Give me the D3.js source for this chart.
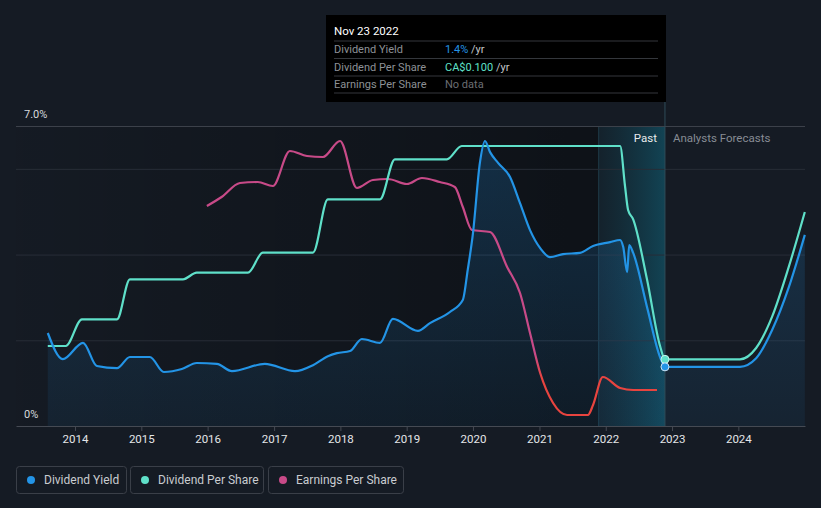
<!DOCTYPE html>
<html>
<head>
<meta charset="utf-8">
<script src="https://cdn.jsdelivr.net/npm/d3@7"></script>
<style>
body{margin:0;background:#151b24;}
svg{display:block;font-family:Roboto,sans-serif;}
</style>
</head>
<body>
<svg id="chart" width="821" height="508"></svg>
<script>
// dividend yield (%), past
var yieldDates = ["2013-08-04","2013-10-26","2014-02-14","2014-05-01","2014-08-20","2014-10-30","2015-02-17","2015-05-05","2015-08-12","2015-11-02","2016-02-21","2016-05-14","2016-11-11","2017-04-26","2017-08-03","2017-10-24","2017-12-13","2018-02-23","2018-04-29","2018-08-07","2018-10-17","2019-03-04","2019-05-09","2019-08-27","2019-11-06","2019-12-03","2020-01-01","2020-02-08","2020-03-07","2020-04-04","2020-05-18","2020-07-23","2020-09-16","2020-11-10","2021-01-05","2021-02-28","2021-05-11","2021-08-12","2021-10-23","2022-01-25","2022-03-21","2022-04-07","2022-04-29","2022-05-10","2022-06-01","2022-08-16","2022-10-27","2022-11-23"];
var yieldValues = [2.17,1.56,1.94,1.40,1.35,1.61,1.61,1.26,1.33,1.47,1.45,1.28,1.45,1.28,1.42,1.63,1.70,1.75,2.03,1.94,2.50,2.22,2.40,2.66,2.94,3.64,4.50,6.14,6.65,6.39,6.14,5.81,5.20,4.57,4.15,3.94,4.01,4.04,4.20,4.29,4.34,4.18,3.59,4.22,4.04,2.78,1.61,1.38];
// dividend yield forecast
var yieldFcDates = ["2024-01-10","2024-04-08","2024-07-05","2024-10-05","2025-01-01"];
var yieldFcValues = [1.38,1.58,2.24,3.24,4.46];

// dividend per share (CA$)
var dpsDates = ["2013-08-04","2013-11-11","2014-02-08","2014-08-20","2014-10-30","2015-08-18","2015-11-02","2016-08-10","2016-10-31","2017-08-03","2017-10-24","2018-08-07","2018-10-28","2019-08-10","2019-10-31","2022-03-21","2022-04-17","2022-05-04","2022-06-01","2022-08-16","2022-10-27","2022-11-23"];
var dpsValues = [0.12,0.12,0.16,0.16,0.22,0.22,0.23,0.23,0.26,0.26,0.34,0.34,0.40,0.40,0.42,0.42,0.36,0.324,0.31,0.22,0.12,0.10];
var dpsFcDates = ["2024-01-10","2024-04-08","2024-07-05","2024-10-05","2025-01-01"];
var dpsFcValues = [0.10,0.117,0.164,0.239,0.321];

// earnings per share (CA$)
var epsDates = ["2015-12-28","2016-03-18","2016-06-27","2016-10-03","2016-12-25","2017-03-29","2017-07-01","2017-09-27","2017-12-30","2018-04-02","2018-06-29","2018-09-20","2019-01-02","2019-03-26","2019-07-02","2019-09-23","2019-11-06","2019-12-26","2020-04-04","2020-07-07","2020-09-16","2020-11-10","2021-01-05","2021-03-17","2021-06-02","2021-09-25","2021-10-23","2021-12-16","2022-03-21","2022-06-01","2022-10-10"];
var epsValues = [2.20,2.29,2.43,2.44,2.40,2.75,2.70,2.69,2.85,2.38,2.46,2.47,2.42,2.48,2.44,2.39,2.19,1.96,1.94,1.59,1.33,0.93,0.53,0.23,0.11,0.11,0.21,0.49,0.38,0.36,0.36];

var tickYears = [2014,2015,2016,2017,2018,2019,2020,2021,2022,2023,2024];
var gridValues = [2,4,6,7];
var yLabelValues = [0,7];

var hoverDate = "2022-11-23";
var bandStart = "2021-11-23";
var tooltipTitle = "Nov 23 2022";
var tooltipLabels = ["Dividend Yield","Dividend Per Share","Earnings Per Share"];
var tooltipValues = ["1.4%","CA$0.100","No data"];
var legendNames = ["Dividend Yield","Dividend Per Share","Earnings Per Share"];

var BLUE = "#2394e6", TEAL = "#5fe0c9", PINK = "#c84a88", RED = "#e8443f";
var parse = d3.timeParse("%Y-%m-%d");

var zip = function(ds, vs){ return ds.map(function(d,i){ return {date: parse(d), value: vs[i]}; }); };
var yieldData = zip(yieldDates.concat(yieldFcDates), yieldValues.concat(yieldFcValues));
var dpsData = zip(dpsDates.concat(dpsFcDates), dpsValues.concat(dpsFcValues));
var epsData = zip(epsDates, epsValues);

var plotTop = 126, plotBottom = 426, plotLeft = 16, plotRight = 805;
var x = d3.scaleTime().domain([new Date(2013,1,10), new Date(2025,0,2)]).range([plotLeft, plotRight]);
var y = d3.scaleLinear().domain([0,7]).range([plotBottom, plotTop]);
var yDps = d3.scaleLinear().domain([0,0.45]).range([plotBottom, plotTop]);
var yEps = d3.scaleLinear().domain([0,3]).range([plotBottom, plotTop]);

var svg = d3.select('#chart');
var defs = svg.append('defs');

var g1 = defs.append('linearGradient').attr('id','pastShade').attr('x1',0).attr('x2',1).attr('y1',0).attr('y2',0);
g1.append('stop').attr('offset','0%').attr('stop-color','#000').attr('stop-opacity',0.02);
g1.append('stop').attr('offset','100%').attr('stop-color','#000').attr('stop-opacity',0.35);

var g2 = defs.append('linearGradient').attr('id','bandShade').attr('x1',0).attr('x2',1).attr('y1',0).attr('y2',0);
g2.append('stop').attr('offset','0%').attr('stop-color','#0a6f86').attr('stop-opacity',0.08);
g2.append('stop').attr('offset','100%').attr('stop-color','#0d8fae').attr('stop-opacity',0.35);

var g3 = defs.append('linearGradient').attr('id','areaFill').attr('gradientUnits','userSpaceOnUse')
    .attr('x1',0).attr('x2',0).attr('y1',plotTop).attr('y2',plotBottom);
g3.append('stop').attr('offset','0%').attr('stop-color',BLUE).attr('stop-opacity',0.22);
g3.append('stop').attr('offset','100%').attr('stop-color',BLUE).attr('stop-opacity',0.07);

var g4 = defs.append('linearGradient').attr('id','epsStroke').attr('gradientUnits','userSpaceOnUse')
    .attr('x1',0).attr('x2',0).attr('y1',plotTop).attr('y2',plotBottom);
g4.append('stop').attr('offset','0%').attr('stop-color',PINK);
g4.append('stop').attr('offset','76%').attr('stop-color',PINK);
g4.append('stop').attr('offset','84%').attr('stop-color',RED);
g4.append('stop').attr('offset','100%').attr('stop-color',RED);

// background shading
var xb = x(parse(bandStart)), xh = x(parse(hoverDate));
svg.append('rect').attr('x',plotLeft).attr('y',plotTop).attr('width',xb-plotLeft).attr('height',plotBottom-plotTop).attr('fill','url(#pastShade)');
svg.append('rect').attr('x',xb).attr('y',plotTop).attr('width',xh-xb).attr('height',plotBottom-plotTop).attr('fill','url(#bandShade)');
svg.append('line').attr('x1',xb).attr('x2',xb).attr('y1',plotTop).attr('y2',plotBottom).attr('stroke','#1e3a46').attr('stroke-width',1);

// grid
svg.append('g').selectAll('line').data(gridValues).enter().append('line')
    .attr('x1',plotLeft).attr('x2',plotRight)
    .attr('y1',function(d){return y(d)+0.5}).attr('y2',function(d){return y(d)+0.5})
    .attr('stroke',function(d){return d==7 ? '#3c414a' : '#272d37'})
    .attr('stroke-width',1);

svg.append('g').selectAll('text').data(yLabelValues).enter().append('text')
    .attr('x',24).attr('y',function(d){return y(d)-8})
    .attr('fill','#d8dadd').style('font-size','11px')
    .text(function(d){return d==0 ? '0%' : d.toFixed(1)+'%'});

// area + lines
var curve = d3.curveMonotoneX;
svg.append('path').datum(yieldData)
    .attr('d', d3.area().x(function(d){return x(d.date)}).y0(plotBottom).y1(function(d){return y(d.value)}).curve(curve))
    .attr('fill','url(#areaFill)');

svg.append('path').datum(epsData)
    .attr('d', d3.line().x(function(d){return x(d.date)}).y(function(d){return yEps(d.value)}).curve(curve))
    .attr('fill','none').attr('stroke','url(#epsStroke)').attr('stroke-width',2.2);

svg.append('path').datum(dpsData)
    .attr('d', d3.line().x(function(d){return x(d.date)}).y(function(d){return yDps(d.value)}).curve(curve))
    .attr('fill','none').attr('stroke',TEAL).attr('stroke-width',2.2);

svg.append('path').datum(yieldData)
    .attr('d', d3.line().x(function(d){return x(d.date)}).y(function(d){return y(d.value)}).curve(curve))
    .attr('fill','none').attr('stroke',BLUE).attr('stroke-width',2.2);

// x axis
var xAxis = d3.axisBottom(x).tickValues(tickYears.map(function(yr){return new Date(yr,0,1)}))
    .tickFormat(d3.timeFormat('%Y')).tickSize(5).tickSizeOuter(0);
var ax = svg.append('g').attr('transform','translate(0,'+plotBottom+')').call(xAxis);
ax.select('.domain').attr('stroke','#454a53');
ax.selectAll('.tick line').attr('stroke','#454a53');
ax.selectAll('.tick text').attr('fill','#e4e6e8').attr('y',9).style('font-size','11.5px').style('font-family','Roboto');

// hover line & markers
svg.append('line').attr('x1',xh).attr('x2',xh).attr('y1',101).attr('y2',plotBottom)
    .attr('stroke','#2f4b58').attr('stroke-width',1);
svg.append('text').attr('x',xh-8).attr('y',142).attr('text-anchor','end')
    .attr('fill','#e8eaec').style('font-size','11.5px').text('Past');
svg.append('text').attr('x',xh+8).attr('y',142)
    .attr('fill','#878c94').style('font-size','11.5px').text('Analysts Forecasts');

var hd = parse(hoverDate);
svg.append('circle').attr('cx',x(hd)).attr('cy',yDps(dpsValues[dpsValues.length-1])).attr('r',4)
    .attr('fill',TEAL).attr('stroke','#c8f5ec').attr('stroke-width',1);
svg.append('circle').attr('cx',x(hd)).attr('cy',y(yieldValues[yieldValues.length-1])).attr('r',4)
    .attr('fill',BLUE).attr('stroke','#cfe6f8').attr('stroke-width',1);

// tooltip
var tt = svg.append('g');
tt.append('rect').attr('x',326).attr('y',15).attr('width',340).attr('height',87).attr('fill','#000');
tt.append('text').attr('x',334).attr('y',35).attr('fill','#fff').style('font-size','11.5px').text(tooltipTitle);
var sepY = [41,58.5,76,93];
tt.selectAll('line').data(sepY).enter().append('line')
    .attr('x1',334).attr('x2',658).attr('y1',function(d){return d}).attr('y2',function(d){return d})
    .attr('stroke','#34373c').attr('stroke-width',1);
var valColors = [BLUE, TEAL, '#6b6e73'];
tooltipLabels.forEach(function(lab,i){
    var yy = 53 + i*17.5;
    tt.append('text').attr('x',334).attr('y',yy).attr('fill','#8d9196').style('font-size','11px').text(lab);
    var t = tt.append('text').attr('x',445).attr('y',yy).style('font-size','11px');
    t.append('tspan').attr('fill',valColors[i]).text(tooltipValues[i]);
    if(i<2) t.append('tspan').attr('fill','#c4c6c9').text(' /yr');
});

// legend
var legColors = [BLUE, TEAL, PINK];
var legX = [16,130,268], legW = [110,133,135];
var lg = svg.append('g').selectAll('g').data(legendNames).enter().append('g')
    .attr('transform',function(d,i){return 'translate('+legX[i]+',466)'});
lg.append('rect').attr('x',0.5).attr('y',0.5).attr('width',function(d,i){return legW[i]}).attr('height',27)
    .attr('rx',3).attr('fill','none').attr('stroke','#3a3f48');
lg.append('circle').attr('cx',15).attr('cy',14).attr('r',4).attr('fill',function(d,i){return legColors[i]});
lg.append('text').attr('x',28).attr('y',18).attr('fill','#c9ccd0').style('font-size','12px').text(function(d){return d});
</script>
</body>
</html>
